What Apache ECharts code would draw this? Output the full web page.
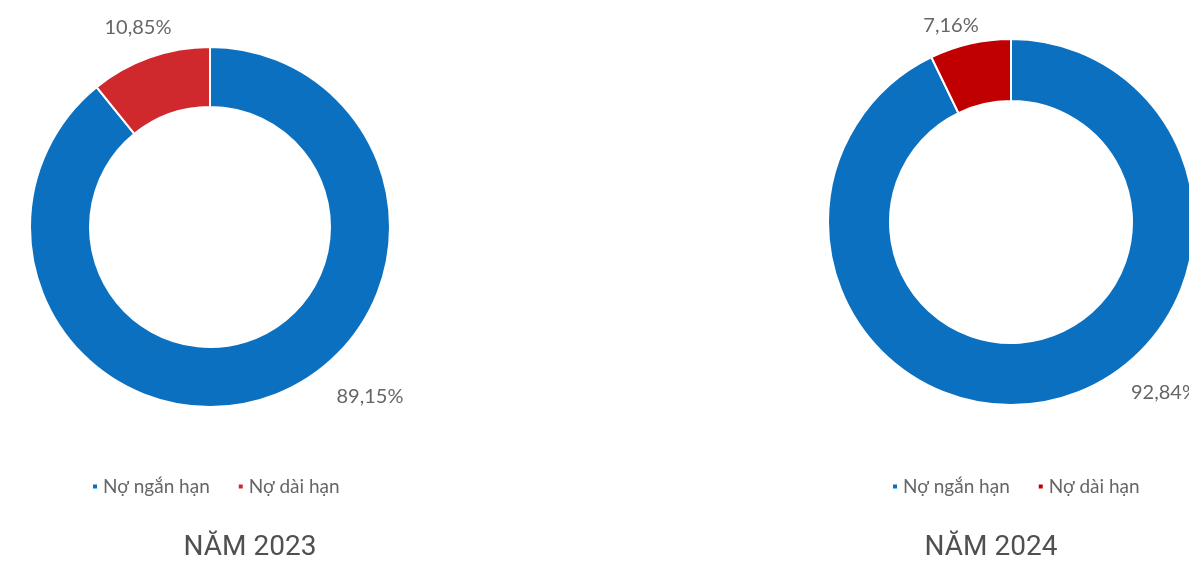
<!DOCTYPE html>
<html>
<head>
<meta charset="utf-8">
<script src="https://cdn.jsdelivr.net/npm/echarts@6/dist/echarts.min.js"></script>
<style>
  html, body { margin: 0; padding: 0; background: #ffffff; }
  #chart { width: 1189px; height: 563px; }
</style>
</head>
<body>
<div id="chart"></div>
<script>
// Debt structure by term, share of total (%)
const categories = ['Nợ ngắn hạn', 'Nợ dài hạn'];
const years = ['NĂM 2023', 'NĂM 2024'];
const share2023 = [89.15, 10.85];
const share2024 = [92.84, 7.16];

const blue = '#0b70bf';
const red2023 = '#cf292d';
const red2024 = '#c00000';

// label anchors per ring: [short-term label, long-term label]
const labelAnchors = [
  [{ x: 370, y: 397, align: 'center' }, { x: 138, y: 28, align: 'center' }],
  [{ x: 1131, y: 393, align: 'left' },  { x: 951, y: 26, align: 'center' }]
];

const fmt = v => v.toFixed(2).replace('.', ',') + '%';

function ring(values, reds, center, radius, idx) {
  return {
    type: 'pie',
    center: center,
    radius: radius,
    startAngle: 90,
    clockwise: true,
    avoidLabelOverlap: false,
    itemStyle: { borderColor: '#ffffff', borderWidth: 2 },
    label: {
      show: true,
      position: 'outside',
      formatter: p => fmt(p.value),
      fontFamily: 'Lato',
      fontSize: 20,
      color: '#666666'
    },
    labelLine: { show: false },
    labelLayout: p => {
      const a = labelAnchors[idx][p.dataIndex];
      return { x: a.x, y: a.y, align: a.align, verticalAlign: 'middle' };
    },
    emphasis: { disabled: true },
    data: categories.map((name, i) => ({
      name: name,
      value: values[i],
      itemStyle: { color: i === 0 ? blue : reds }
    }))
  };
}

function legend(left, reds) {
  return {
    left: left,
    top: 472,
    orient: 'horizontal',
    icon: 'rect',
    itemWidth: 6,
    itemHeight: 6,
    itemGap: 27,
    selectedMode: false,
    textStyle: { fontFamily: 'Lato', fontSize: 19, color: '#666666' },
    data: categories.map((name, i) => ({
      name: name,
      itemStyle: { color: i === 0 ? blue : reds }
    }))
  };
}

const titleText = { fontFamily: 'Roboto', fontSize: 28, fontWeight: 'normal', color: '#505050' };

const chart = echarts.init(document.getElementById('chart'), null, { renderer: 'canvas' });
chart.setOption({
  backgroundColor: '#ffffff',
  animation: false,
  title: [
    { text: years[0], left: 245, top: 529, textAlign: 'center', textStyle: titleText },
    { text: years[1], left: 986, top: 529, textAlign: 'center', textStyle: titleText }
  ],
  legend: [legend(86, red2023), legend(886, red2024)],
  series: [
    ring(share2023, red2023, [210, 227], [120, 180], 0),
    ring(share2024, red2024, [1011, 222], [121, 183], 1)
  ]
});
</script>
</body>
</html>
